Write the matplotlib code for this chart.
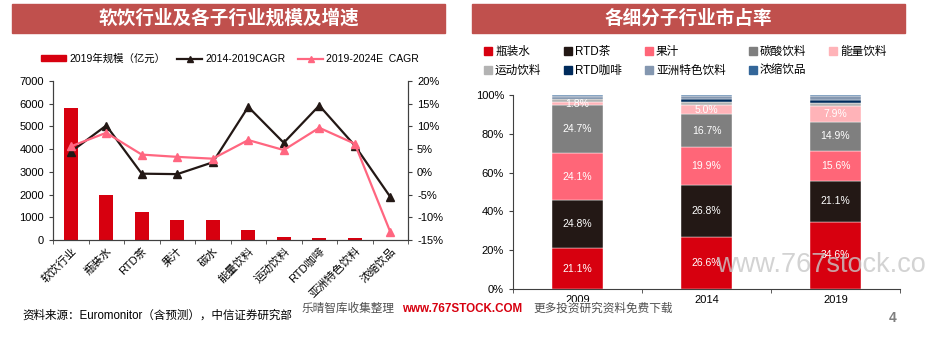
import matplotlib
matplotlib.use('Agg')
import matplotlib.pyplot as plt
from matplotlib.patches import Rectangle
from matplotlib.lines import Line2D
from matplotlib.ticker import FuncFormatter, MultipleLocator
import numpy as np

plt.rcParams['font.family'] = ['Liberation Sans', 'Noto Sans CJK SC']
plt.rcParams['axes.unicode_minus'] = False

# 左图：软饮行业及各子行业规模及增速
categories = ['软饮行业', '瓶装水', 'RTD茶', '果汁', '碳水', '能量饮料',
              '运动饮料', 'RTD咖啡', '亚洲特色饮料', '浓缩饮品']
size_2019 = [5800, 2000, 1230, 900, 860, 450, 120, 90, 90, 10]
cagr_14_19 = [4.4, 10.2, -0.4, -0.5, 2.1, 14.3, 6.4, 14.6, 5.8, -5.5]
cagr_19_24 = [5.6, 8.6, 3.8, 3.3, 2.9, 7.0, 4.8, 9.7, 6.2, -13.2]

# 右图：各细分子行业市占率 (%)
years = ['2009', '2014', '2019']
seg_names = ['瓶装水', 'RTD茶', '果汁', '碳酸饮料', '能量饮料',
             '运动饮料', 'RTD咖啡', '亚洲特色饮料', '浓缩饮品']
share_water = [21.1, 26.6, 34.6]
share_tea = [24.8, 26.8, 21.1]
share_juice = [24.1, 19.9, 15.6]
share_soda = [24.7, 16.7, 14.9]
share_energy = [1.8, 5.0, 7.9]
share_sports = [1.6, 1.5, 1.7]
share_coffee = [0.6, 1.2, 1.6]
share_asian = [0.8, 1.8, 2.0]
share_conc = [0.5, 0.5, 0.6]

RED = '#D7000F'
DARK = '#231815'
PINK = '#FF6680'
SPINE = '#404040'
seg_colors = [RED, DARK, '#FF6678', '#7F7F7F', '#FFB3B8',
              '#B3B3B3', '#002B5C', '#8497B0', '#336699']

fig = plt.figure(figsize=(9.25, 3.39), dpi=100)

# 标题色带
for x0, title in [(12, '软饮行业及各子行业规模及增速'), (472, '各细分子行业市占率')]:
    fig.patches.append(Rectangle((x0 / 925, 1 - 33 / 339), 433 / 925, 29 / 339,
                                 transform=fig.transFigure, color='#C0504D', zorder=0))
    fig.text((x0 + 216.5) / 925, 1 - 18.5 / 339, title, color='white', fontsize=13.4,
             fontweight='bold', ha='center', va='center')

# ---------- 左图 ----------
ax1 = fig.add_axes([53 / 925, 1 - 240 / 339, 355 / 925, 159 / 339])
x = np.arange(len(categories))
ax1.bar(x, size_2019, width=0.4, color=RED, zorder=2)
ax1.set_xlim(-0.5, len(categories) - 0.5)
ax1.set_ylim(0, 7000)
ax1.yaxis.set_major_locator(MultipleLocator(1000))
ax1.set_xticks(x)
ax1.set_xticklabels(categories, rotation=45, ha='right', rotation_mode='anchor', fontsize=8)
ax1.tick_params(axis='x', length=0, pad=4)
ax1.set_xticks(np.arange(-0.5, len(categories)), minor=True)
ax1.tick_params(axis='x', which='minor', length=3, color=SPINE)
ax1.tick_params(axis='y', length=3, color=SPINE, labelsize=8)
ax1.spines['top'].set_visible(False)
for s in ['left', 'right', 'bottom']:
    ax1.spines[s].set_color(SPINE)

ax2 = ax1.twinx()
ax2.plot(x, cagr_14_19, color=DARK, marker='^', markersize=6, linewidth=1.6, zorder=3)
ax2.plot(x, cagr_19_24, color=PINK, marker='^', markersize=6, linewidth=1.6, zorder=3)
ax2.set_ylim(-15, 20)
ax2.yaxis.set_major_locator(MultipleLocator(5))
ax2.yaxis.set_major_formatter(FuncFormatter(lambda v, p: '%d%%' % round(v)))
ax2.tick_params(axis='y', length=3, color=SPINE, labelsize=8)
ax2.spines['top'].set_visible(False)
for s in ['left', 'right', 'bottom']:
    ax2.spines[s].set_color(SPINE)

h1 = [Rectangle((0, 0), 1, 1, color=RED),
      Line2D([], [], color=DARK, marker='^', markersize=5, linewidth=1.6),
      Line2D([], [], color=PINK, marker='^', markersize=5, linewidth=1.6)]
fig.legend(h1, ['2019年规模（亿元）', '2014-2019CAGR', '2019-2024E  CAGR'],
           loc='center', bbox_to_anchor=(230 / 925, 1 - 59 / 339), ncol=3, frameon=False,
           fontsize=7.5, handlelength=2.4, handleheight=0.5, handletextpad=0.3,
           columnspacing=1.2)

# ---------- 右图 ----------
ax3 = fig.add_axes([513 / 925, 1 - 289 / 339, 387 / 925, 194 / 339])
shares = [share_water, share_tea, share_juice, share_soda, share_energy,
          share_sports, share_coffee, share_asian, share_conc]
xr = np.arange(len(years))
bottom = np.zeros(len(years))
for i, (name, vals) in enumerate(zip(seg_names, shares)):
    vals = np.array(vals)
    ax3.bar(xr, vals, width=0.4, bottom=bottom, color=seg_colors[i], label=name,
            edgecolor='white', linewidth=0.3, zorder=2)
    if i < 5:
        for xi, b, v in zip(xr, bottom, vals):
            ax3.text(xi, b + v / 2, '%.1f%%' % v, color='white', fontsize=7.5,
                     ha='center', va='center', zorder=3)
    bottom += vals
ax3.set_xlim(-0.5, len(years) - 0.5)
ax3.set_ylim(0, 100)
ax3.yaxis.set_major_locator(MultipleLocator(20))
ax3.yaxis.set_major_formatter(FuncFormatter(lambda v, p: '%d%%' % round(v)))
ax3.set_xticks(xr)
ax3.set_xticklabels(years, fontsize=8)
ax3.tick_params(axis='x', length=0, pad=4)
ax3.set_xticks(np.arange(-0.5, len(years)), minor=True)
ax3.tick_params(axis='x', which='minor', length=3, color=SPINE)
ax3.tick_params(axis='y', length=3, color=SPINE, labelsize=8)
for s in ['top', 'right']:
    ax3.spines[s].set_visible(False)
for s in ['left', 'bottom']:
    ax3.spines[s].set_color(SPINE)

# 图例按行排列：第一行5项，第二行4项
order = [0, 5, 1, 6, 2, 7, 3, 8, 4]
h3 = [Line2D([], [], linestyle='none', marker='s', markersize=6, color=seg_colors[i]) for i in order]
fig.legend(h3, [seg_names[i] for i in order], loc='center left',
           bbox_to_anchor=(474 / 925, 1 - 61.5 / 339),
           ncol=5, frameon=False, fontsize=8.4, handlelength=0.6, handletextpad=0.3,
           columnspacing=2.0, labelspacing=0.6)

# 水印与页脚
fig.text(716 / 925, 1 - 265 / 339, 'www.767stock.com', color='#C8C8C8', fontsize=19.5,
         ha='left', va='center', alpha=0.8, zorder=10)
fig.text(22 / 925, 1 - 316 / 339, '资料来源：Euromonitor（含预测），中信证券研究部',
         fontsize=8.3, ha='left', va='center')
wm_box = dict(facecolor='white', edgecolor='none', pad=1)
fig.text(302 / 925, 1 - 309 / 339, '乐晴智库收集整理', fontsize=8.4, color='#505050',
         ha='left', va='center', bbox=wm_box, zorder=11)
fig.text(402 / 925, 1 - 309 / 339, 'www.767STOCK.COM', fontsize=8.4, color='#D7000F',
         fontweight='bold', ha='left', va='center', bbox=wm_box, zorder=11)
fig.text(533 / 925, 1 - 309 / 339, '更多投资研究资料免费下载', fontsize=8.4, color='#505050',
         ha='left', va='center', bbox=wm_box, zorder=11)
fig.text(893 / 925, 1 - 318 / 339, '4', fontsize=10, color='#7F7F7F', fontweight='bold',
         ha='center', va='center')

fig.savefig('out.png', dpi=100)
